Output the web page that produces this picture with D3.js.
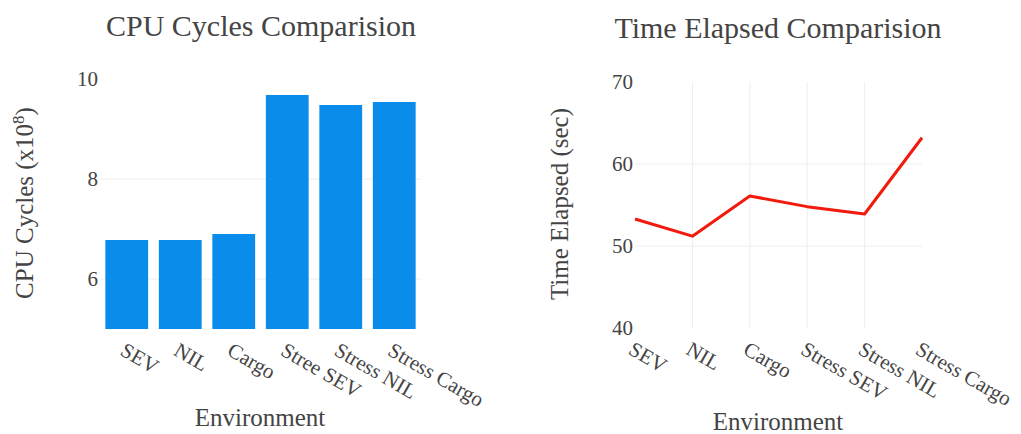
<!DOCTYPE html>
<html><head><meta charset="utf-8">
<script src="https://cdn.jsdelivr.net/npm/d3@7"></script>
<style>body{margin:0;background:#fff}svg{display:block}text{font-family:"Liberation Serif","Times New Roman",serif;fill:#444}</style>
</head><body>
<script>
const categoriesCpu = ["SEV","NIL","Cargo","Stree SEV","Stress NIL","Stress Cargo"];
const cpuCycles = [6.78, 6.78, 6.90, 9.68, 9.48, 9.54];
const cpuTicks = [6, 8, 10];
const categoriesTime = ["SEV","NIL","Cargo","Stress SEV","Stress NIL","Stress Cargo"];
const timeElapsed = [53.3, 51.2, 56.1, 54.8, 53.9, 63.2];
const timeTicks = [40, 50, 60, 70];

const W = 1021, H = 434;
const svg = d3.select("body").append("svg").attr("width", W).attr("height", H);

function yAxis(g, y, ticks, x0) {
  const ax = g.append("g").attr("transform", `translate(${x0},0)`)
    .call(d3.axisLeft(y).tickValues(ticks).tickSize(0).tickPadding(2).tickFormat(d3.format("d")));
  ax.select(".domain").remove();
  ax.selectAll("text").style("font-size", "21px").attr("fill", "#444");
}
function xLabels(g, cats, posFn, yb) {
  g.append("g").selectAll("text").data(cats).join("text")
    .attr("transform", d => `translate(${posFn(d) - 4},${yb + 19}) rotate(30)`)
    .attr("dy", "0.35em").attr("text-anchor", "start")
    .style("font-size", "21px").text(d => d);
}

// Left chart
{
  const g = svg.append("g");
  const x = d3.scaleBand().domain(categoriesCpu).range([100, 421]).paddingInner(0.2).paddingOuter(0.1);
  const y = d3.scaleLinear().domain([5, 10]).range([329, 79]);
  g.append("g").selectAll("line").data(cpuTicks.filter(t => t > 5 && t < 10)).join("line")
    .attr("x1", 100).attr("x2", 421).attr("y1", d => y(d)).attr("y2", d => y(d))
    .attr("stroke", "#eee").attr("stroke-width", 1);
  g.append("g").selectAll("rect").data(categoriesCpu).join("rect")
    .attr("x", d => x(d)).attr("width", x.bandwidth())
    .attr("y", (d, i) => y(cpuCycles[i])).attr("height", (d, i) => y(5) - y(cpuCycles[i]))
    .attr("fill", "#0a8dea");
  yAxis(g, y, cpuTicks, 100);
  xLabels(g, categoriesCpu, d => x(d) + x.bandwidth() / 2, 329);
  g.append("text").attr("x", 261).attr("y", 36).attr("text-anchor", "middle").style("font-size", "30px").text("CPU Cycles Comparision");
  g.append("text").attr("x", 260).attr("y", 426).attr("text-anchor", "middle").style("font-size", "25px").text("Environment");
  const yt = g.append("text").attr("transform", "translate(33,203) rotate(-90)").attr("text-anchor", "middle").style("font-size", "25px");
  yt.append("tspan").text("CPU Cycles (x10");
  yt.append("tspan").attr("dy", "-9").style("font-size", "17px").text("8");
  yt.append("tspan").attr("dy", "9").text(")");
}

// Right chart
{
  const g = svg.append("g");
  const x = d3.scalePoint().domain(categoriesTime).range([635, 922]).padding(0);
  const y = d3.scaleLinear().domain([40, 70]).range([328, 82]);
  g.append("g").selectAll("line").data(categoriesTime.slice(1, -1)).join("line")
    .attr("x1", d => x(d)).attr("x2", d => x(d)).attr("y1", 82).attr("y2", 328)
    .attr("stroke", "#eee").attr("stroke-width", 1);
  g.append("g").selectAll("line").data(timeTicks.filter(t => t > 40 && t < 70)).join("line")
    .attr("x1", 635).attr("x2", 922).attr("y1", d => y(d)).attr("y2", d => y(d))
    .attr("stroke", "#eee").attr("stroke-width", 1);
  const line = d3.line().x((d, i) => x(categoriesTime[i])).y(d => y(d));
  g.append("path").datum(timeElapsed).attr("d", line).attr("fill", "none")
    .attr("stroke", "#f21a0d").attr("stroke-width", 3).attr("stroke-linejoin", "round");
  yAxis(g, y, timeTicks, 635);
  xLabels(g, categoriesTime, d => x(d), 328);
  g.append("text").attr("x", 778).attr("y", 38).attr("text-anchor", "middle").style("font-size", "30px").text("Time Elapsed Comparision");
  g.append("text").attr("x", 778).attr("y", 430).attr("text-anchor", "middle").style("font-size", "25px").text("Environment");
  g.append("text").attr("transform", "translate(568,204) rotate(-90)").attr("text-anchor", "middle").style("font-size", "25px").text("Time Elapsed (sec)");
}
</script>
</body></html>
